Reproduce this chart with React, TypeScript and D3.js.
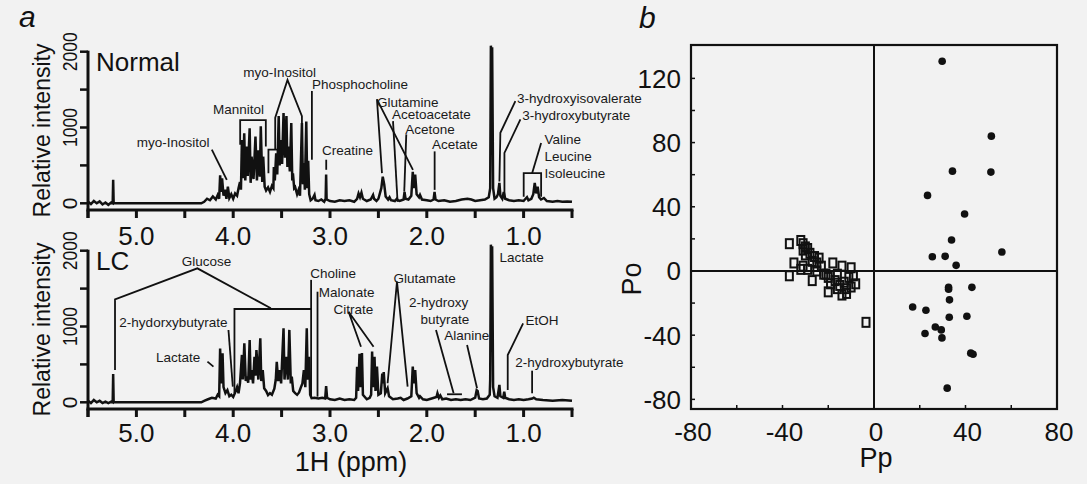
import { useEffect, useRef } from 'react';
import * as d3 from 'd3';

// 1H NMR spectra, [ppm, relative intensity]
const normalSpectrum: [number, number][] = [
  [5.5, 20], [5.47, -10], [5.44, 30], [5.41, 0], [5.38, 25], [5.35, -15], [5.32, 10], [5.29, -20], [5.26, 10],
  [5.245, 0], [5.24, 310], [5.235, 0], [5.22, 0], [4.33, 0], [4.3, 20], [4.27, 60], [4.24, 40], [4.21, 90],
  [4.18, 50], [4.16, 110], [4.145, 60], [4.135, 370], [4.125, 150], [4.115, 330], [4.1, 100], [4.085, 180],
  [4.07, 60], [4.055, 220], [4.04, 70], [4.02, 120], [4.0, 60], [3.98, 130], [3.96, 100], [3.945, 200],
  [3.93, 280], [3.92, 180], [3.91, 835], [3.9, 330], [3.886, 925], [3.875, 300], [3.86, 750], [3.85, 360],
  [3.83, 990], [3.82, 270], [3.81, 615], [3.79, 320], [3.77, 880], [3.755, 300], [3.74, 700], [3.725, 350],
  [3.715, 1015], [3.7, 280], [3.69, 615], [3.675, 220], [3.66, 170], [3.64, 210], [3.62, 150], [3.6, 230],
  [3.585, 200], [3.58, 480], [3.57, 300], [3.556, 660], [3.545, 380], [3.53, 1150], [3.52, 500], [3.507, 835],
  [3.495, 520], [3.48, 1190], [3.465, 600], [3.45, 1150], [3.44, 480], [3.43, 750], [3.415, 420], [3.4, 1060],
  [3.39, 300], [3.383, 395], [3.37, 200], [3.36, 215], [3.34, 120], [3.325, 175], [3.31, 100], [3.29, 1060],
  [3.28, 250], [3.27, 530], [3.26, 180], [3.245, 1080], [3.235, 200], [3.225, 560], [3.215, 120], [3.2, 40],
  [3.18, 60], [3.16, 110], [3.15, 40], [3.12, 30], [3.09, 50], [3.06, 20], [3.045, 60], [3.04, 380],
  [3.035, 50], [3.0, 30], [2.95, 20], [2.9, 40], [2.85, 30], [2.8, 40], [2.75, 20], [2.72, 60], [2.705, 130],
  [2.69, 80], [2.675, 140], [2.66, 60], [2.62, 30], [2.58, 50], [2.555, 110], [2.545, 60], [2.52, 30],
  [2.5, 60], [2.47, 200], [2.455, 350], [2.44, 250], [2.425, 90], [2.4, 50], [2.385, 80], [2.37, 40],
  [2.33, 30], [2.31, 60], [2.3, 40], [2.28, 30], [2.24, 50], [2.23, 150], [2.22, 60], [2.19, 50], [2.16, 100],
  [2.145, 415], [2.135, 200], [2.12, 380], [2.105, 120], [2.08, 80], [2.07, 110], [2.05, 50], [2.0, 40],
  [1.96, 30], [1.93, 50], [1.92, 150], [1.91, 50], [1.88, 30], [1.82, 40], [1.76, 20], [1.7, 30], [1.64, 50],
  [1.58, 60], [1.54, 50], [1.5, 30], [1.45, 40], [1.4, 50], [1.36, 80], [1.345, 200], [1.338, 2080],
  [1.332, 1800], [1.325, 2060], [1.315, 200], [1.3, 60], [1.28, 80], [1.265, 120], [1.25, 270], [1.24, 100],
  [1.22, 60], [1.205, 150], [1.19, 60], [1.15, 40], [1.1, 30], [1.05, 40], [1.0, 30], [0.98, 60], [0.965, 80],
  [0.95, 40], [0.92, 60], [0.9, 120], [0.885, 270], [0.87, 130], [0.855, 220], [0.84, 80], [0.82, 50],
  [0.79, 70], [0.76, 30], [0.7, 20], [0.65, 30], [0.6, 20], [0.55, 25], [0.5, 20],
];

const lcSpectrum: [number, number][] = [
  [5.5, 20], [5.47, -10], [5.44, 30], [5.41, 0], [5.38, 20], [5.35, -10], [5.32, 10], [5.29, -10], [5.26, 10],
  [5.245, 0], [5.24, 373], [5.235, 0], [5.22, 0], [4.33, 0], [4.3, 20], [4.26, 40], [4.22, 60], [4.18, 50],
  [4.16, 100], [4.145, 80], [4.135, 710], [4.125, 250], [4.11, 645], [4.1, 200], [4.08, 120], [4.06, 160],
  [4.04, 80], [4.02, 100], [4.0, 70], [3.98, 130], [3.96, 200], [3.945, 120], [3.93, 250], [3.91, 625],
  [3.9, 300], [3.885, 780], [3.87, 280], [3.86, 340], [3.845, 260], [3.83, 820], [3.82, 300], [3.81, 425],
  [3.795, 250], [3.78, 600], [3.77, 350], [3.76, 690], [3.74, 300], [3.72, 845], [3.71, 280], [3.695, 425],
  [3.68, 185], [3.66, 150], [3.64, 95], [3.62, 120], [3.6, 100], [3.575, 180], [3.56, 300], [3.55, 535],
  [3.535, 280], [3.52, 425], [3.505, 250], [3.48, 975], [3.47, 300], [3.45, 600], [3.435, 300], [3.42, 955],
  [3.405, 250], [3.395, 340], [3.38, 150], [3.36, 120], [3.34, 100], [3.32, 130], [3.3, 200], [3.285, 250],
  [3.27, 425], [3.255, 200], [3.24, 975], [3.23, 300], [3.215, 600], [3.205, 100], [3.19, 55], [3.16, 60],
  [3.12, 50], [3.08, 60], [3.05, 50], [3.04, 215], [3.03, 60], [3.0, 40], [2.95, 30], [2.9, 50], [2.85, 30],
  [2.8, 40], [2.75, 30], [2.73, 60], [2.72, 470], [2.71, 150], [2.695, 640], [2.685, 200], [2.67, 650],
  [2.66, 100], [2.62, 40], [2.59, 60], [2.575, 100], [2.565, 670], [2.555, 200], [2.54, 600], [2.53, 150],
  [2.515, 470], [2.5, 100], [2.475, 120], [2.46, 380], [2.452, 250], [2.445, 400], [2.43, 120], [2.405, 185],
  [2.39, 80], [2.35, 40], [2.3, 50], [2.27, 60], [2.24, 30], [2.2, 50], [2.16, 80], [2.145, 470], [2.135, 250],
  [2.12, 425], [2.105, 120], [2.08, 60], [2.07, 80], [2.04, 40], [2.0, 30], [1.95, 50], [1.9, 70], [1.89, 120],
  [1.875, 60], [1.86, 90], [1.84, 40], [1.8, 50], [1.75, 30], [1.7, 40], [1.65, 30], [1.6, 40], [1.55, 30],
  [1.5, 60], [1.485, 160], [1.475, 150], [1.46, 50], [1.42, 40], [1.38, 50], [1.35, 100], [1.345, 300],
  [1.338, 2080], [1.332, 1800], [1.325, 2060], [1.315, 200], [1.3, 80], [1.27, 60], [1.25, 230], [1.24, 80],
  [1.21, 60], [1.2, 140], [1.19, 60], [1.15, 40], [1.1, 30], [1.05, 40], [1.0, 30], [0.95, 40], [0.91, 50],
  [0.895, 60], [0.87, 40], [0.8, 30], [0.7, 20], [0.6, 30], [0.5, 20],
];

// metabolite labels: text, ppm, intensity, anchor
const normalLabels: [string, number, number, string][] = [
  ['myo-Inositol', 4.996, 805, 'start'],
  ['Mannitol', 4.208, 1239, 'start'],
  ['myo-Inositol', 3.897, 1734, 'start'],
  ['Phosphocholine', 3.187, 1571, 'start'],
  ['Creatine', 3.083, 699, 'start'],
  ['Glutamine', 2.515, 1336, 'start'],
  ['Acetoacetate', 2.36, 1182, 'start'],
  ['Acetone', 2.222, 983, 'start'],
  ['Acetate', 1.946, 787, 'start'],
  ['3-hydroxyisovalerate', 1.067, 1381, 'start'],
  ['3-hydroxybutyrate', 1.015, 1159, 'start'],
  ['Valine', 0.785, 841, 'start'],
  ['Leucine', 0.785, 619, 'start'],
  ['Isoleucine', 0.785, 398, 'start'],
];

// leader lines and brackets, as polylines of [ppm, intensity]
const normalLeaders: [number, number][][] = [
  [[4.221, 708], [4.066, 309]],
  [[3.928, 774], [3.928, 1097], [3.663, 1097], [3.663, 750]],
  [[3.636, 398], [3.636, 708], [3.515, 708], [3.515, 619]],
  [[3.566, 708], [3.566, 1129], [3.439, 1628], [3.29, 1150], [3.29, 664]],
  [[3.187, 1482], [3.187, 575]],
  [[3.039, 575], [3.039, 442]],
  [[2.463, 398], [2.515, 1372], [2.143, 442]],
  [[2.349, 1084], [2.302, 21]],
  [[2.212, 909], [2.233, 154]],
  [[1.919, 685], [1.919, 177]],
  [[1.085, 1349], [1.24, 930], [1.25, 287]],
  [[1.033, 1106], [1.198, 664], [1.198, 66]],
  [[0.819, 797], [0.912, 398]],
  [[0.999, 88], [0.999, 398], [0.819, 398], [0.819, 88]],
];

const lcLabels: [string, number, number, string][] = [
  ['Glucose', 4.531, 1868, 'start'],
  ['2-hydorxybutyrate', 5.176, 1063, 'start'],
  ['Lactate', 4.797, 601, 'start'],
  ['Choline', 3.205, 1709, 'start'],
  ['Malonate', 3.115, 1459, 'start'],
  ['Citrate', 2.964, 1227, 'start'],
  ['Glutamate', 2.343, 1636, 'start'],
  ['2-hydroxy', 1.878, 1327, 'middle'],
  ['butyrate', 1.814, 1099, 'middle'],
  ['Alanine', 1.819, 888, 'start'],
  ['Lactate', 1.25, 1913, 'start'],
  ['EtOH', 0.981, 1086, 'start'],
  ['2-hydroxybutyrate', 1.085, 536, 'start'],
];

const lcLeaders: [number, number][][] = [
  [[5.221, 426], [5.221, 1359], [4.37, 1767], [3.611, 1240]],
  [[3.987, 123], [3.987, 1231], [3.195, 1231]],
  [[3.195, 1615], [3.195, 83]],
  [[4.049, 954], [4.004, 206]],
  [[4.266, 536], [4.204, 470]],
  [[3.129, 1459], [3.129, 74]],
  [[2.68, 733], [2.808, 1195], [2.55, 733]],
  [[2.405, 251], [2.308, 1591], [2.198, 206]],
  [[1.905, 954], [1.723, 119]],
  [[1.791, 106], [1.637, 106]],
  [[1.584, 756], [1.481, 185]],
  [[1.005, 1042], [1.164, 624], [1.164, 162]],
  [[0.912, 417], [0.912, 119]],
];

const ppmTicks = [5.5, 5.0, 4.5, 4.0, 3.5, 3.0, 2.5, 2.0, 1.5, 1.0, 0.5];
const ppmLabels = [5.0, 4.0, 3.0, 2.0, 1.0];
const intensityTicks = [0, 500, 1000, 1500, 2000];
const intensityLabels = [0, 1000, 2000];

// OPLS-DA scores, [Pp, Po]
const normalScores: [number, number][] = [
  [-37, 17], [-32, 19], [-31, 17], [-30, 15], [-31, 13], [-29, 14], [-28, 11], [-30, 10], [-26, 9], [-27, 6],
  [-25, 5], [-35, 5], [-37, -3], [-32, 1], [-31, 3], [-29, 1], [-27, -6], [-25, 0], [-23, 3], [-24, 8],
  [-22, -2], [-20, -4], [-18, 5], [-20, -13], [-19, -8], [-17, -6], [-16, -2], [-15, -9], [-14, 3], [-14, -15],
  [-13, -7], [-12, -11], [-11, -4], [-10, 2], [-10, -10], [-9, -3], [-8, -8], [-12, -14], [-16, -11], [-21, -2],
  [-3.5, -32],
];
const lcScores: [number, number][] = [
  [29.8, 130.7], [51.3, 84], [34.3, 62.2], [51.1, 61.6], [23.4, 47.1], [39.6, 35.5], [33.9, 19.3], [55.9, 11.8],
  [25.5, 8.9], [31.1, 9.1], [35.9, 3.5], [32.6, -10.2], [32.6, -11.4], [42.8, -10.2], [33, -18], [16.9, -22.4],
  [22.7, -24.5], [32.9, -28.8], [40.6, -28.2], [26.8, -34.9], [29.4, -36.7], [22.3, -39], [29.7, -41.7],
  [42.3, -51.2], [43.3, -51.9], [32, -73],
];
const scoreXTicks = [-80, -40, 0, 40, 80];
const scoreYTicks = [-80, -40, 0, 40, 80, 120];

const FONT = '"Liberation Sans", Arial, Helvetica, sans-serif';
const INK = '#111';

export default function App() {
  const svgRef = useRef<SVGSVGElement>(null);

  useEffect(() => {
    if (!svgRef.current) return;
    const svg = d3.select(svgRef.current);
    svg.selectAll('*').remove();

    svg.append('rect').attr('width', 1087).attr('height', 484).attr('fill', '#f2f2f2');

    const x = d3.scaleLinear().domain([5.5, 0.5]).range([88, 572]);

    const panels = [
      { name: 'Normal', data: normalSpectrum, labels: normalLabels, leaders: normalLeaders, y0: 203.3, axisY: 210, tickLabelY: 245 },
      { name: 'LC', data: lcSpectrum, labels: lcLabels, leaders: lcLeaders, y0: 402.3, axisY: 409, tickLabelY: 442 },
    ];

    panels.forEach(p => {
      const y = d3.scaleLinear().domain([0, 2000]).range([p.y0, p.y0 - 151.6]);
      const g = svg.append('g');

      // y axis
      g.append('line')
        .attr('x1', x(5.5)).attr('x2', x(5.5))
        .attr('y1', y(2000) - 1).attr('y2', p.axisY + 8)
        .attr('stroke', INK).attr('stroke-width', 3);
      g.selectAll('.yt').data(intensityTicks).enter().append('line')
        .attr('x1', x(5.5) - 8).attr('x2', x(5.5))
        .attr('y1', d => y(d)).attr('y2', d => y(d))
        .attr('stroke', INK).attr('stroke-width', 2.5);
      g.selectAll('.yl').data(intensityLabels).enter().append('text')
        .attr('transform', d => `translate(77,${y(d)}) rotate(-90)`)
        .attr('text-anchor', 'middle')
        .attr('font-family', FONT).attr('font-size', 21)
        .attr('fill', INK)
        .each(function (d) {
          if (d >= 1000) d3.select(this).attr('textLength', 39).attr('lengthAdjust', 'spacingAndGlyphs');
        })
        .text(d => String(d));
      g.append('text')
        .attr('transform', `translate(50,${(y(0) + y(2000)) / 2 + 3}) rotate(-90)`)
        .attr('text-anchor', 'middle')
        .attr('font-family', FONT).attr('font-size', 23)
        .attr('fill', INK)
        .text('Relative intensity');

      // x axis
      g.append('line')
        .attr('x1', x(5.5) - 1.5).attr('x2', x(0.5) + 1.5)
        .attr('y1', p.axisY).attr('y2', p.axisY)
        .attr('stroke', INK).attr('stroke-width', 3);
      g.selectAll('.xt').data(ppmTicks).enter().append('line')
        .attr('x1', d => x(d)).attr('x2', d => x(d))
        .attr('y1', p.axisY).attr('y2', p.axisY + 8)
        .attr('stroke', INK).attr('stroke-width', 3);
      g.selectAll('.xl').data(ppmLabels).enter().append('text')
        .attr('x', d => x(d)).attr('y', p.tickLabelY)
        .attr('text-anchor', 'middle')
        .attr('font-family', FONT).attr('font-size', 26)
        .attr('fill', INK)
        .text(d => d.toFixed(1));

      // spectrum
      const line = d3.line<[number, number]>().x(d => x(d[0])).y(d => y(d[1]));
      g.append('path')
        .attr('d', line(p.data))
        .attr('fill', 'none')
        .attr('stroke', INK).attr('stroke-width', 2.5)
        .attr('stroke-linejoin', 'miter').attr('stroke-miterlimit', 4);

      // annotations
      const leader = d3.line<[number, number]>().x(d => x(d[0])).y(d => y(d[1]));
      g.selectAll('.ld').data(p.leaders).enter().append('path')
        .attr('d', d => leader(d))
        .attr('fill', 'none')
        .attr('stroke', INK).attr('stroke-width', 1.8);
      g.selectAll('.lb').data(p.labels).enter().append('text')
        .attr('x', d => x(d[1])).attr('y', d => y(d[2]))
        .attr('dy', '0.36em')
        .attr('text-anchor', d => d[3])
        .attr('font-family', FONT).attr('font-size', 13.5)
        .attr('fill', '#1a1a1a')
        .text(d => d[0]);

      g.append('text')
        .attr('x', 96).attr('y', p.y0 - 132.5)
        .attr('font-family', FONT).attr('font-size', 26)
        .attr('fill', INK)
        .text(p.name);
    });

    svg.append('text')
      .attr('x', (x(5.5) + x(0.5)) / 2 + 21).attr('y', 471)
      .attr('text-anchor', 'middle')
      .attr('font-family', FONT).attr('font-size', 27)
      .attr('fill', INK)
      .text('1H (ppm)');

    svg.append('text')
      .attr('x', 19).attr('y', 27)
      .attr('font-family', FONT).attr('font-size', 30).attr('font-style', 'italic')
      .attr('fill', INK)
      .text('a');

    // panel b: scores plot
    const sx = d3.scaleLinear().domain([-80, 80]).range([691, 1057]);
    const sy = d3.scaleLinear().domain([-86, 140.8]).range([409, 45]);
    const b = svg.append('g');

    b.append('rect')
      .attr('x', sx(-80)).attr('y', sy(140.8))
      .attr('width', sx(80) - sx(-80)).attr('height', sy(-86) - sy(140.8))
      .attr('fill', 'none').attr('stroke', INK).attr('stroke-width', 2.2);
    b.append('line')
      .attr('x1', sx(0)).attr('x2', sx(0)).attr('y1', sy(140.8)).attr('y2', sy(-86))
      .attr('stroke', INK).attr('stroke-width', 2);
    b.append('line')
      .attr('x1', sx(-80)).attr('x2', sx(80)).attr('y1', sy(0)).attr('y2', sy(0))
      .attr('stroke', INK).attr('stroke-width', 2);

    b.selectAll('.sxt').data(d3.range(-60, 80, 20)).enter().append('line')
      .attr('x1', d => sx(d)).attr('x2', d => sx(d))
      .attr('y1', sy(-86)).attr('y2', sy(-86) - 4)
      .attr('stroke', INK).attr('stroke-width', 1.5);
    b.selectAll('.syt').data(d3.range(-80, 140, 20)).enter().append('line')
      .attr('x1', sx(-80)).attr('x2', sx(-80) + 4)
      .attr('y1', d => sy(d)).attr('y2', d => sy(d))
      .attr('stroke', INK).attr('stroke-width', 1.5);

    b.selectAll('.sxl').data(scoreXTicks).enter().append('text')
      .attr('x', d => sx(d) + 2).attr('y', 441)
      .attr('text-anchor', 'middle')
      .attr('font-family', FONT).attr('font-size', 26)
      .attr('fill', INK)
      .text(d => String(d));
    b.selectAll('.syl').data(scoreYTicks).enter().append('text')
      .attr('x', 681).attr('y', d => sy(d))
      .attr('dy', '0.36em')
      .attr('text-anchor', 'end')
      .attr('font-family', FONT).attr('font-size', 26)
      .attr('fill', INK)
      .text(d => String(d));

    b.append('text')
      .attr('x', sx(0) + 2).attr('y', 467)
      .attr('text-anchor', 'middle')
      .attr('font-family', FONT).attr('font-size', 27)
      .attr('fill', INK)
      .text('Pp');
    b.append('text')
      .attr('transform', `translate(641,${sy(-5)}) rotate(-90)`)
      .attr('text-anchor', 'middle')
      .attr('font-family', FONT).attr('font-size', 27)
      .attr('fill', INK)
      .text('Po');

    b.selectAll('.sq').data(normalScores).enter().append('rect')
      .attr('x', d => sx(d[0]) - 3.5).attr('y', d => sy(d[1]) - 4.5)
      .attr('width', 7).attr('height', 9)
      .attr('fill', 'none').attr('stroke', INK).attr('stroke-width', 2);
    b.selectAll('.ci').data(lcScores).enter().append('circle')
      .attr('cx', d => sx(d[0])).attr('cy', d => sy(d[1]))
      .attr('r', 3.8)
      .attr('fill', INK);

    svg.append('text')
      .attr('x', 639).attr('y', 28)
      .attr('font-family', FONT).attr('font-size', 30).attr('font-style', 'italic')
      .attr('fill', INK)
      .text('b');
  }, []);

  return (
    <svg
      ref={svgRef}
      width={1087}
      height={484}
      style={{ position: 'absolute', left: 0, top: 0, display: 'block' }}
    />
  );
}
